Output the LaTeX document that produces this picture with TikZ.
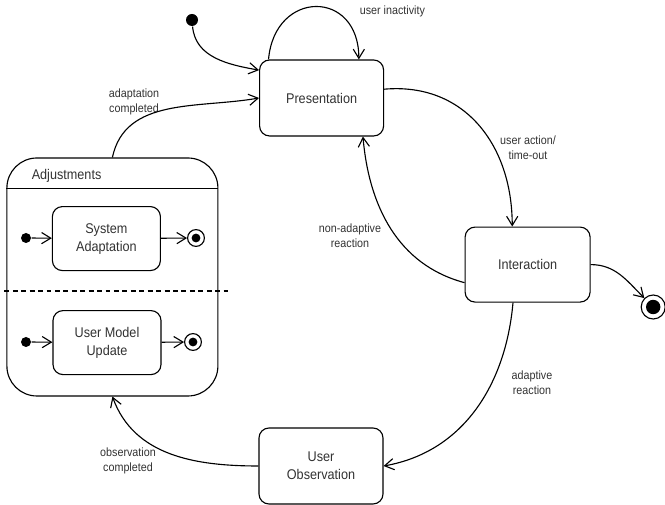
\documentclass[tikz,border=0pt]{standalone}
\usepackage{fontspec}
\setmainfont{Liberation Sans}[FakeStretch=0.9]
\usetikzlibrary{arrows.meta}
\definecolor{st_text}{RGB}{50, 50, 50}
\tikzstyle{st}=[rectangle,rounded corners=0.25cm,draw=black,line width=0.8pt,
  minimum width=3.1cm,minimum height=1.9cm,align=center,text=st_text,
  font=\fontsize{10}{12.8}\selectfont]
\tikzstyle{sub}=[st,minimum width=2.7cm,minimum height=1.6cm]
\tikzstyle{comp}=[rectangle,rounded corners=0.75cm,draw=black,line width=0.8pt,
  minimum width=5.275cm,minimum height=5.95cm]
\tikzstyle{ini}=[circle,fill=black,inner sep=0pt,minimum size=0.3cm]
\tikzstyle{fin}=[circle,draw=black,line width=0.8pt,inner sep=0pt,minimum size=0.42cm,
  path picture={\fill[black] (path picture bounding box.center) circle (0.11cm);}]
\tikzstyle{bigfin}=[fin,minimum size=0.6cm,
  path picture={\fill[black] (path picture bounding box.center) circle (0.18cm);}]
\tikzstyle{lbl}=[align=center,text=st_text,inner sep=0pt,font=\fontsize{8.5}{10.6}\selectfont]
\tikzstyle{none}=[]

\begin{document}
\begin{tikzpicture}[line width=0.8pt, >={Straight Barb[length=2.3mm,width=2.8mm]}]
    \useasboundingbox (0, 0) rectangle (16.625, 12.625);
    \node [style=ini] (0) at (4.8, 12.125) {};
    \node [style=st] (1) at (8.04, 10.175) {Presentation};
    \node [style=st, minimum width=3.125cm, minimum height=1.875cm] (2) at (13.19, 6.01) {Interaction};
    \node [style=st] (3) at (8.025, 0.975) {User\\Observation};
    \node [style=bigfin] (4) at (16.33, 4.95) {};
    \node [style=comp] (5) at (2.81, 5.7) {};
    \node [style=none, anchor=west, inner sep=0pt, text=st_text, font=\fontsize{10}{12}\selectfont] (6) at (0.78, 8.225) {Adjustments};
    \node [style=sub] (7) at (2.66, 6.66) {System\\Adaptation};
    \node [style=sub] (8) at (2.675, 4.06) {User Model\\Update};
    \node [style=ini, minimum size=0.25cm] (9) at (0.65, 6.675) {};
    \node [style=ini, minimum size=0.25cm] (10) at (0.65, 4.075) {};
    \node [style=fin] (11) at (4.9, 6.675) {};
    \node [style=fin] (12) at (4.825, 4.075) {};
    \node [style=lbl] (13) at (9.81, 12.35) {user inactivity};
    \node [style=lbl] (14) at (3.35, 10.075) {adaptation\\completed};
    \node [style=lbl] (15) at (13.2, 8.925) {user action/\\time-out};
    \node [style=lbl] (16) at (8.75, 6.725) {non-adaptive\\reaction};
    \node [style=lbl] (17) at (13.3, 3.05) {adaptive\\reaction};
    \node [style=lbl] (18) at (3.2, 1.1) {observation\\completed};
    \draw ([yshift=-0.775cm]5.north west) to ([yshift=-0.775cm]5.north east);
    \draw [dash pattern=on 3.5pt off 2.5pt] ([xshift=-0.05cm, yshift=-0.35cm]5.west) to ([xshift=0.25cm, yshift=-0.35cm]5.east);
    \draw [->, out=-85, in=170] (0) to (1.156);
    \draw [->, out=85, in=90, looseness=2] (1.144) to (1.46);
    \draw [->, out=78, in=190] (5.north) to (1.west);
    \draw [->, out=5, in=90, looseness=1.1] (1.8) to (2.112);
    \draw [->, out=165, in=-85] (2.196) to (1.317);
    \draw [->, out=0, in=135] (2.east) to (4);
    \draw [->, out=-95, in=10] (2.249) to (3.east);
    \draw [->, out=180, in=-70] (3.west) to (5.south);
    \draw [->] (9) to (7);
    \draw [->] (7) to (11);
    \draw [->] (10) to (8);
    \draw [->] (8) to (12);
\end{tikzpicture}
\end{document}
